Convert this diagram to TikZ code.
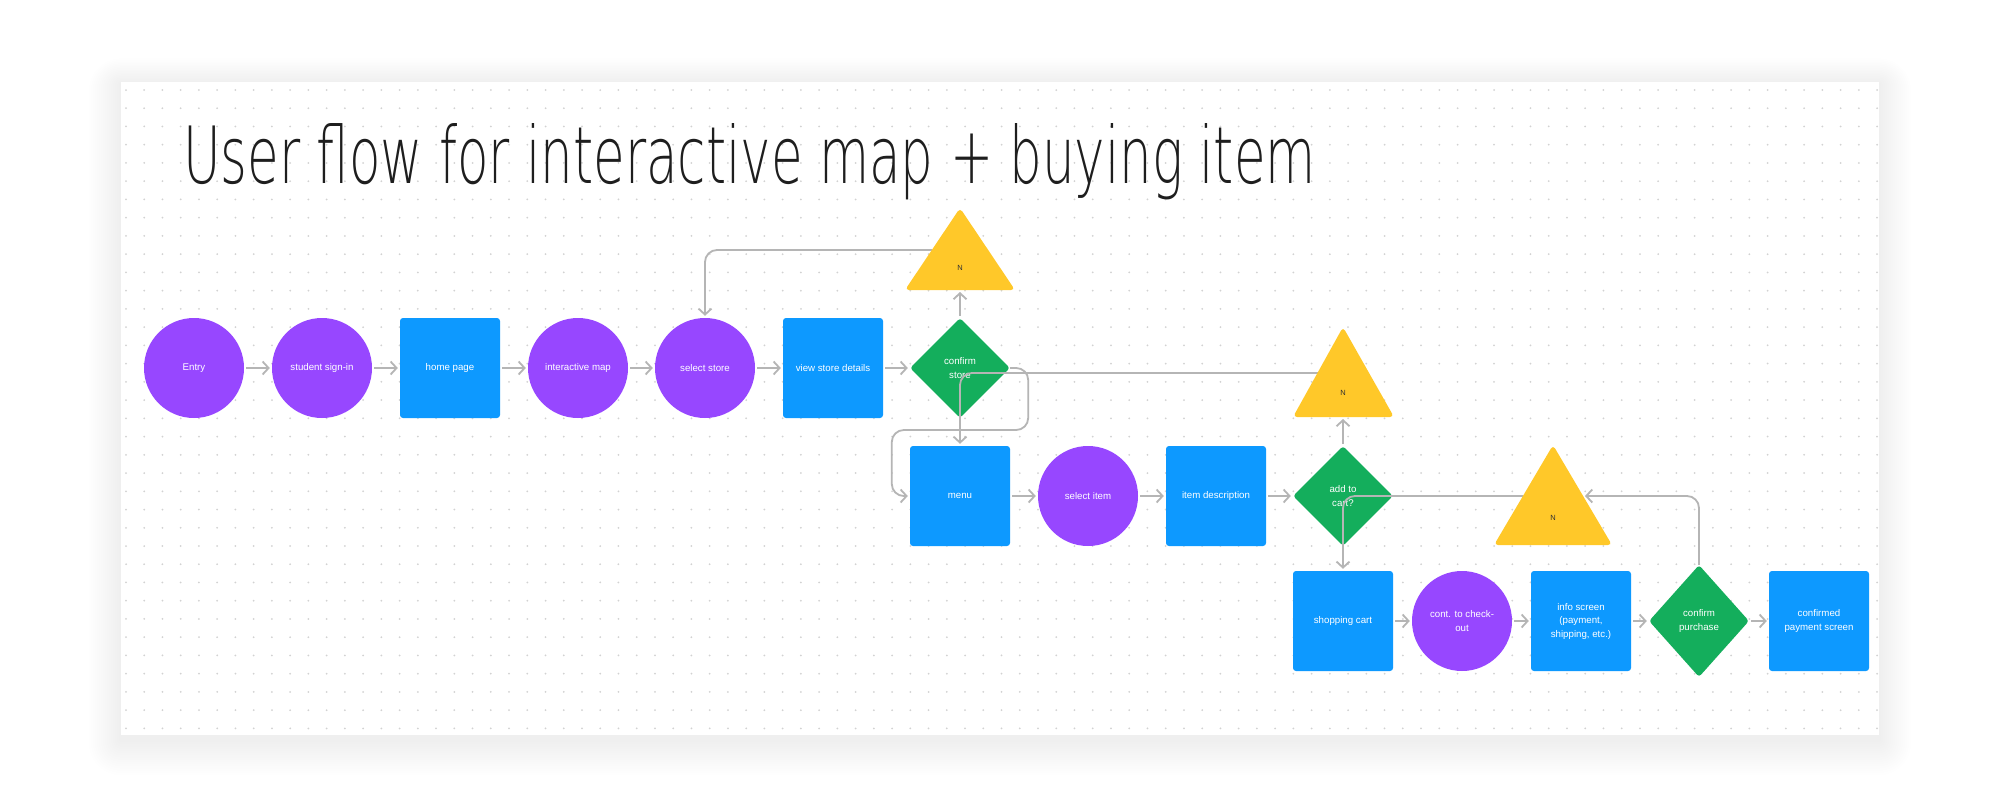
\documentclass[tikz,border=0pt]{standalone}
\usepackage{fontspec}
\setsansfont{Liberation Sans}
\usepackage{graphicx}
\IfFontExistsTF{DejaVuSans-ExtraLight.ttf}
  {\newfontfamily\handfont{DejaVuSans-ExtraLight.ttf}}
  {\IfFontExistsTF{Lato-Hairline.ttf}
     {\newfontfamily\handfont{Lato-Hairline.ttf}}
     {\newcommand\handfont{\fontseries{lc}\ttfamily}}}
\usetikzlibrary{arrows.meta,shapes.geometric}
\definecolor{fpurple}{HTML}{9747FF}
\definecolor{fblue}{HTML}{0D99FF}
\definecolor{fgreen}{HTML}{14AE5C}
\definecolor{fyellow}{HTML}{FFC829}
\definecolor{linkgray}{HTML}{B5B5B5}
\definecolor{dotgray}{HTML}{D2D2D2}
\definecolor{inkc}{HTML}{1E1E1E}
\begin{document}
\begin{tikzpicture}[x=1pt,y=-1pt,
  lbl/.style={font=\sffamily\fontsize{9.7}{13.5}\selectfont, text=white, align=center, inner sep=0pt},
  circ/.style={lbl, circle, fill=fpurple, minimum size=100pt},
  sq/.style={lbl, rectangle, rounded corners=3pt, fill=fblue, minimum width=100pt, minimum height=100pt},
  dia/.style={lbl, diamond, fill=fgreen, minimum width=100pt, minimum height=100pt, rounded corners=3pt},
  tri/.style={fill=fyellow, rounded corners=4pt},
  nlbl/.style={font=\sffamily\fontsize{7.5}{9}\selectfont, text=black!80, inner sep=0pt},
  link/.style={draw=linkgray, line width=1.8pt, rounded corners=12pt, shorten >=2pt, -{Straight Barb[length=6pt,width=13pt]}},
  hop/.style={link, shorten <=2pt},
]
\useasboundingbox (0,0) rectangle (2000,809);
\fill[white] (0,0) rectangle (2000,809);
% soft shadow of the board
\foreach \k [evaluate=\k as \r using 2*\k] in {1,...,16}
  \fill[black, opacity=0.0038, rounded corners=\r pt] (121-2*\k, 84-1.6*\k) rectangle (1879+2*\k, 740+2.2*\k);
\fill[white] (121,82) rectangle (1879,735);
% dot grid
\foreach \i in {0,...,96}
  \foreach \j in {0,...,35}
    \fill[dotgray] (126+\i*18.24, 90+\j*18.24) circle (1pt);

% title
\node[anchor=base west, inner sep=0pt, text=inkc] (title) at (183,183)
  {\resizebox{1132pt}{60pt}{\handfont User flow for interactive map + buying item}};

% row 1
\node[circ] (entry) at (194,368) {Entry};
\node[circ] (ssi) at (322,368) {student sign-in};
\node[sq] (home) at (450,368) {home page};
\node[circ] (imap) at (578,368) {interactive map};
\node[circ] (sstore) at (705,368) {select store};
\node[sq] (vsd) at (833,368) {view store details};
\node[dia] (cstore) at (960,368) {confirm\\store};

% row 2
\node[sq] (menu) at (960,496) {menu};
\node[circ] (sitem) at (1088,496) {select item};
\node[sq] (idesc) at (1216,496) {item description};
\node[dia] (cart) at (1343,496) {add to\\cart?};

% row 3
\node[sq] (shop) at (1343,621) {shopping cart};
\node[circ] (cont) at (1462,621) {cont. to check-\\out};
\node[sq] (info) at (1581,621) {info screen\\(payment,\\shipping, etc.)};
\node[dia, minimum height=112pt] (cpur) at (1699,621) {confirm\\purchase};
\node[sq] (cpay) at (1819,621) {confirmed\\payment screen};

% connection points on the triangles
\coordinate (n1l) at (932,250);
\coordinate (n1b) at (960,290);
\coordinate (n2l) at (1318,373);
\coordinate (n2b) at (1343,417);
\coordinate (n3l) at (1523,496);
\coordinate (n3r) at (1583,496);

% connectors
\draw[hop] (entry) -- (ssi);
\draw[hop] (ssi) -- (home);
\draw[hop] (home) -- (imap);
\draw[hop] (imap) -- (sstore);
\draw[hop] (sstore) -- (vsd);
\draw[hop] (vsd) -- (cstore);
\draw[hop] (cstore.north) -- (n1b);
\draw[link] (n1l) -| (sstore.north);
\draw[link] (cstore.east) -- ++(18,0) -- ++(0,62) -| ([xshift=-18pt]menu.west) -- (menu.west);
\draw[link] (n2l) -| (menu.north);
\draw[hop] (menu) -- (sitem);
\draw[hop] (sitem) -- (idesc);
\draw[hop] (idesc) -- (cart);
\draw[hop] (cart.north) -- (n2b);
\draw[link] (n3l) -| (shop.north);
\draw[hop] (shop) -- (cont);
\draw[hop] (cont) -- (info);
\draw[hop] (info) -- (cpur);
\draw[hop] (cpur) -- (cpay);
\draw[link] (cpur.north) |- (n3r);

% triangles
\fill[tri] (960,208) -- (1015,290) -- (905,290) -- cycle;
\node[nlbl] (n1) at (960,268) {N};
\fill[tri] (1343,327) -- (1394,417) -- (1293,417) -- cycle;
\node[nlbl] (n2) at (1343,393) {N};
\fill[tri] (1553,445) -- (1612,545) -- (1494,545) -- cycle;
\node[nlbl] (n3) at (1553,518) {N};
\end{tikzpicture}
\end{document}
